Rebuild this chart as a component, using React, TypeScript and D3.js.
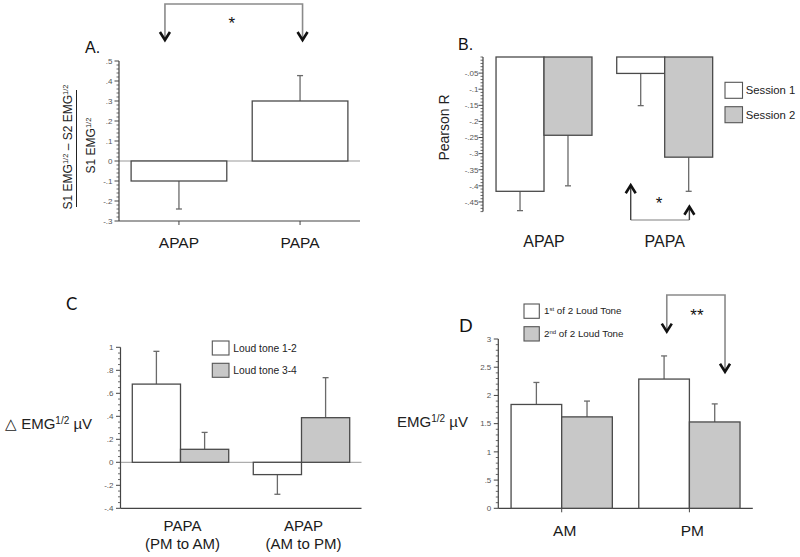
import React from "react";
import * as d3 from "d3";

const FONT = "'Liberation Sans', Arial, Helvetica, sans-serif";
const LETTER_FONT = "Lato, 'Open Sans', sans-serif";

// ---------- Panel A ----------
const catsA = ["APAP", "PAPA"];
const valuesA = [-0.1, 0.3];
const errA = [0.14, 0.127];
const ticksA = [0.5, 0.4, 0.3, 0.2, 0.1, 0, -0.1, -0.2, -0.3];

// ---------- Panel B ----------
const catsB = ["APAP", "PAPA"];
const seriesNamesB = ["Session 1", "Session 2"];
const session1B = [-0.417, -0.051];
const session2B = [-0.243, -0.311];
const err1B = [0.06, 0.1];
const err2B = [0.157, 0.106];
const ticksB = [-0.05, -0.1, -0.15, -0.2, -0.25, -0.3, -0.35, -0.4, -0.45];

// ---------- Panel C ----------
const catsC = ["PAPA", "APAP"];
const catSubC = ["(PM to AM)", "(AM to PM)"];
const seriesNamesC = ["Loud tone 1-2", "Loud tone 3-4"];
const tone12C = [0.68, -0.107];
const tone34C = [0.113, 0.388];
const err12C = [0.285, 0.171];
const err34C = [0.147, 0.348];
const ticksC = [1, 0.8, 0.6, 0.4, 0.2, 0, -0.2, -0.4];

// ---------- Panel D ----------
const catsD = ["AM", "PM"];
const seriesNamesD = ["1st", "2nd"];
const firstD = [1.84, 2.29];
const secondD = [1.62, 1.53];
const errFirstD = [0.39, 0.41];
const errSecondD = [0.28, 0.32];
const ticksD = [3, 2.5, 2, 1.5, 1, 0.5, 0];

const GRAY = "#c8c8c8";
const BAR_STROKE = "#4a4a4a";
const ERR = "#6a6a6a";
const AXIS = "#444";
const TICK_TXT = "#555";

function fmt(v: number) {
  if (Math.abs(v) < 1e-9) return "0";
  const s = String(Math.round(v * 100) / 100);
  return s.replace(/^(-?)0\./, "$1.");
}

function YAxis({ y, x0, ticks, minorStep, domain, labelOffset = 7, fontSize = 8 }: any) {
  const [lo, hi] = domain;
  const minors = d3
    .range(Math.round(lo / minorStep), Math.round(hi / minorStep) + 1)
    .map((k: number) => k * minorStep)
    .filter((v: number) => !ticks.some((t: number) => Math.abs(t - v) < 1e-6));
  return (
    <g>
      <line x1={x0} x2={x0} y1={y(hi)} y2={y(lo)} stroke={AXIS} strokeWidth={1.2} />
      {ticks.map((t: number) => (
        <g key={t}>
          <line x1={x0 - 4.5} x2={x0} y1={y(t)} y2={y(t)} stroke={AXIS} strokeWidth={1} />
          <text x={x0 - labelOffset} y={y(t)} dy="0.35em" textAnchor="end" fontSize={fontSize} fill={TICK_TXT} fontFamily={FONT}>
            {fmt(t)}
          </text>
        </g>
      ))}
      {minors.map((m: number) => (
        <line key={m} x1={x0 - 2.5} x2={x0} y1={y(m)} y2={y(m)} stroke={AXIS} strokeWidth={0.8} />
      ))}
    </g>
  );
}

type Series = { name: string; values: number[]; errors: number[]; fill: string };

function Bars({ x, sub, y, cats, series }: any) {
  return (
    <g>
      {cats.map((c: string, i: number) =>
        series.map((s: Series) => {
          const v = s.values[i];
          const e = s.errors[i];
          const bx = x(c) + sub(s.name);
          const w = sub.bandwidth();
          const cx = bx + w / 2;
          const end = v + Math.sign(v) * e;
          return (
            <g key={c + s.name}>
              <line x1={cx} x2={cx} y1={y(v)} y2={y(end)} stroke={ERR} strokeWidth={1.3} />
              <line x1={cx - 3} x2={cx + 3} y1={y(end)} y2={y(end)} stroke={ERR} strokeWidth={1.3} />
              <rect
                x={bx}
                y={Math.min(y(0), y(v))}
                width={w}
                height={Math.abs(y(v) - y(0))}
                fill={s.fill}
                stroke={BAR_STROKE}
                strokeWidth={1.3}
              />
            </g>
          );
        })
      )}
    </g>
  );
}

function Chevron({ x, y, dir }: { x: number; y: number; dir: "down" | "up" }) {
  const d = dir === "down" ? 8 : -8;
  return (
    <path
      d={`M${x - 5},${y - d} L${x},${y} L${x + 5},${y - d}`}
      fill="none"
      stroke="#111"
      strokeWidth={2.6}
      strokeLinejoin="miter"
    />
  );
}

export default function App() {
  const xA = d3.scaleBand().domain(catsA).range([119, 360]).paddingInner(0.21).paddingOuter(0.1);
  const subA = d3.scaleBand().domain(["v"]).range([0, xA.bandwidth()]);
  const yA = d3.scaleLinear().domain([-0.3, 0.5]).range([221, 61]);
  const seriesA: Series[] = [{ name: "v", values: valuesA, errors: errA, fill: "#fff" }];
  const cA = (c: string) => (xA(c) as number) + xA.bandwidth() / 2;

  const xB = d3.scaleBand().domain(catsB).range([483, 725.7]).paddingInner(0.205).paddingOuter(0.108);
  const subB = d3.scaleBand().domain(seriesNamesB).range([0, xB.bandwidth()]);
  const yB = d3.scaleLinear().domain([-0.48, 0]).range([211.6, 57]);
  const seriesB: Series[] = [
    { name: seriesNamesB[0], values: session1B, errors: err1B, fill: "#fff" },
    { name: seriesNamesB[1], values: session2B, errors: err2B, fill: GRAY },
  ];
  const cB = (c: string, s: string) => (xB(c) as number) + (subB(s) as number) + subB.bandwidth() / 2;

  const xC = d3.scaleBand().domain(catsC).range([120.5, 361.5]).paddingInner(0.203).paddingOuter(0.0975);
  const subC = d3.scaleBand().domain(seriesNamesC).range([0, xC.bandwidth()]);
  const yC = d3.scaleLinear().domain([-0.4, 1]).range([508.3, 347.3]);
  const seriesC: Series[] = [
    { name: seriesNamesC[0], values: tone12C, errors: err12C, fill: "#fff" },
    { name: seriesNamesC[1], values: tone34C, errors: err34C, fill: GRAY },
  ];
  const cC = (c: string) => (xC(c) as number) + xC.bandwidth() / 2;

  const xD = d3.scaleBand().domain(catsD).range([498.3, 752.8]).paddingInner(0.207).paddingOuter(0.1);
  const subD = d3.scaleBand().domain(seriesNamesD).range([0, xD.bandwidth()]);
  const yD = d3.scaleLinear().domain([0, 3]).range([508.3, 339]);
  const seriesD: Series[] = [
    { name: seriesNamesD[0], values: firstD, errors: errFirstD, fill: "#fff" },
    { name: seriesNamesD[1], values: secondD, errors: errSecondD, fill: GRAY },
  ];
  const cD = (c: string) => (xD(c) as number) + xD.bandwidth() / 2;
  const cDs = (c: string, s: string) => (xD(c) as number) + (subD(s) as number) + subD.bandwidth() / 2;

  const aL = cA("APAP") - 14;
  const aR = cA("PAPA") + 2.5;
  const bL = cB("PAPA", seriesNamesB[0]) - 10;
  const bR = cB("PAPA", seriesNamesB[1]) + 0.7;
  const dL = cDs("PM", seriesNamesD[0]) + 2.7;
  const dR = cDs("PM", seriesNamesD[1]) + 10.3;

  const catStyle = { fontFamily: FONT, fontSize: 15.5, fill: "#1a1a1a" };

  return (
    <div style={{ position: "absolute", left: 0, top: 0 }}>
      <svg width={800} height={557} style={{ display: "block", background: "#fff" }} fontFamily={FONT}>
        {/* ================= Panel A ================= */}
        <text x={85} y={53.3} fontSize={16} fill="#111">A.</text>
        <text transform="translate(72,147) rotate(-90)" textAnchor="middle" fontSize={12} fill="#222">
          S1 EMG<tspan dy={-4.5} fontSize={7.5}>1/2</tspan>
          <tspan dy={4.5}>{" \u2013 S2 EMG"}</tspan>
          <tspan dy={-4.5} fontSize={7.5}>1/2</tspan>
        </text>
        <line x1={76.5} x2={76.5} y1={90} y2={207} stroke="#222" strokeWidth={1} />
        <text transform="translate(95,145.5) rotate(-90)" textAnchor="middle" fontSize={12} fill="#222">
          S1 EMG<tspan dy={-4.5} fontSize={7.5}>1/2</tspan>
        </text>
        <line x1={119} x2={360} y1={yA(0)} y2={yA(0)} stroke="#999" strokeWidth={1} />
        <line x1={119} x2={360} y1={yA(-0.3)} y2={yA(-0.3)} stroke={AXIS} strokeWidth={1.2} />
        {catsA.map((c) => (
          <line key={c} x1={cA(c)} x2={cA(c)} y1={yA(-0.3)} y2={yA(-0.3) + 4} stroke={AXIS} />
        ))}
        <YAxis y={yA} x0={119} ticks={ticksA} minorStep={0.02} domain={[-0.3, 0.5]} labelOffset={6.5} fontSize={8} />
        <Bars x={xA} sub={subA} y={yA} cats={catsA} series={seriesA} />
        {catsA.map((c) => (
          <text key={c} x={cA(c)} y={248.3} textAnchor="middle" {...catStyle}>{c}</text>
        ))}
        <path d={`M${aL},${yA(0.605)} V${yA(0.785)} H${aR} V${yA(0.605)}`} fill="none" stroke="#8a8a8a" strokeWidth={1.6} />
        <Chevron x={aL} y={yA(0.605)} dir="down" />
        <Chevron x={aR} y={yA(0.605)} dir="down" />
        <text x={(aL + aR) / 2 - 2} y={28.8} textAnchor="middle" fontSize={17} fill="#111">*</text>

        {/* ================= Panel B ================= */}
        <text x={458} y={50} fontSize={16} fill="#111">B.</text>
        <text transform="translate(449,127.5) rotate(-90)" textAnchor="middle" fontSize={14} fill="#222">Pearson R</text>
        <YAxis y={yB} x0={483} ticks={ticksB} minorStep={0.01} domain={[-0.48, 0]} labelOffset={4.5} fontSize={8} />
        <Bars x={xB} sub={subB} y={yB} cats={catsB} series={seriesB} />
        {catsB.map((c) => (
          <text key={c} x={(xB(c) as number) + xB.bandwidth() / 2} y={246.7} textAnchor="middle" {...catStyle} fontSize={16}>{c}</text>
        ))}
        {seriesB.map((s, i) => (
          <g key={s.name}>
            <rect x={725} y={82.3 + i * 24.4} width={17.5} height={16} fill={s.fill} stroke="#555" strokeWidth={1.1} />
            <text x={745.7} y={90.3 + i * 24.4} dy="0.35em" fontSize={11.3} fill="#222">{s.name}</text>
          </g>
        ))}
        <line x1={bL} x2={bR} y1={yB(-0.506)} y2={yB(-0.506)} stroke="#aaa" strokeWidth={1.5} />
        <line x1={bL} x2={bL} y1={yB(-0.506)} y2={yB(-0.398)} stroke="#444" strokeWidth={1.4} />
        <line x1={bR} x2={bR} y1={yB(-0.506)} y2={yB(-0.465)} stroke="#444" strokeWidth={1.4} />
        <Chevron x={bL} y={yB(-0.398)} dir="up" />
        <Chevron x={bR} y={yB(-0.465)} dir="up" />
        <text x={(bL + bR) / 2 - 1} y={209} textAnchor="middle" fontSize={17} fill="#111">*</text>

        {/* ================= Panel C ================= */}
        <text x={66} y={310} fontSize={17} fontFamily={LETTER_FONT} fill="#111">C</text>
        <text x={5} y={429} fontSize={15} fill="#222">
          {"\u25B3 EMG"}
          <tspan dy={-5.5} fontSize={10}>1/2</tspan>
          <tspan dy={5.5}>{" \u00B5V"}</tspan>
        </text>
        <line x1={120.5} x2={361.5} y1={yC(0)} y2={yC(0)} stroke="#999" strokeWidth={1} />
        <line x1={120.5} x2={361.5} y1={yC(-0.4)} y2={yC(-0.4)} stroke={AXIS} strokeWidth={1.2} />
        <YAxis y={yC} x0={120.5} ticks={ticksC} minorStep={0.05} domain={[-0.4, 1]} labelOffset={7} fontSize={8} />
        <Bars x={xC} sub={subC} y={yC} cats={catsC} series={seriesC} />
        {catsC.map((c, i) => (
          <g key={c}>
            <text x={cC(c) + 2} y={531} textAnchor="middle" {...catStyle} fontSize={15}>{c}</text>
            <text x={cC(c) + 2} y={548.5} textAnchor="middle" {...catStyle} fontSize={15}>{catSubC[i]}</text>
          </g>
        ))}
        {seriesC.map((s, i) => (
          <g key={s.name}>
            <rect x={212.3} y={341 + i * 22.3} width={16.7} height={14} fill={s.fill} stroke="#555" strokeWidth={1.1} />
            <text x={233.3} y={348 + i * 22.3} dy="0.35em" fontSize={10.3} fill="#222">{s.name}</text>
          </g>
        ))}

        {/* ================= Panel D ================= */}
        <text x={459} y={332} fontSize={18} fontFamily={LETTER_FONT} fill="#111">D</text>
        <text x={468} y={427.3} textAnchor="end" fontSize={15} fill="#222">
          EMG<tspan dy={-5.5} fontSize={10}>1/2</tspan>
          <tspan dy={5.5}>{" \u00B5V"}</tspan>
        </text>
        <line x1={498.3} x2={752.8} y1={yD(0)} y2={yD(0)} stroke={AXIS} strokeWidth={1.2} />
        {catsD.map((c) => (
          <line key={c} x1={cD(c)} x2={cD(c)} y1={yD(0)} y2={yD(0) + 4} stroke={AXIS} />
        ))}
        <YAxis y={yD} x0={498.3} ticks={ticksD} minorStep={0.1} domain={[0, 3]} labelOffset={7} fontSize={8} />
        <Bars x={xD} sub={subD} y={yD} cats={catsD} series={seriesD} />
        {catsD.map((c) => (
          <text key={c} x={cD(c) + 3} y={536} textAnchor="middle" {...catStyle}>{c}</text>
        ))}
        {seriesD.map((s, i) => (
          <g key={s.name}>
            <rect x={524} y={304 + i * 22.7} width={15.3} height={14.3} fill={s.fill} stroke="#555" strokeWidth={1.1} />
            <text x={544} y={311 + i * 22.7} dy="0.35em" fontSize={9.8} fill="#222">
              {i === 0 ? "1" : "2"}
              <tspan dy={-3.5} fontSize={6}>{i === 0 ? "st" : "nd"}</tspan>
              <tspan dy={3.5}>{" of 2 Loud Tone"}</tspan>
            </text>
          </g>
        ))}
        <path d={`M${dL},${yD(3.13)} V${yD(3.78)} H${dR} V${yD(2.42)}`} fill="none" stroke="#8a8a8a" strokeWidth={1.6} />
        <Chevron x={dL} y={yD(3.13)} dir="down" />
        <Chevron x={dR} y={yD(2.42)} dir="down" />
        <text x={(dL + dR) / 2 + 1} y={321} textAnchor="middle" fontSize={17} fill="#111">**</text>
      </svg>
    </div>
  );
}
